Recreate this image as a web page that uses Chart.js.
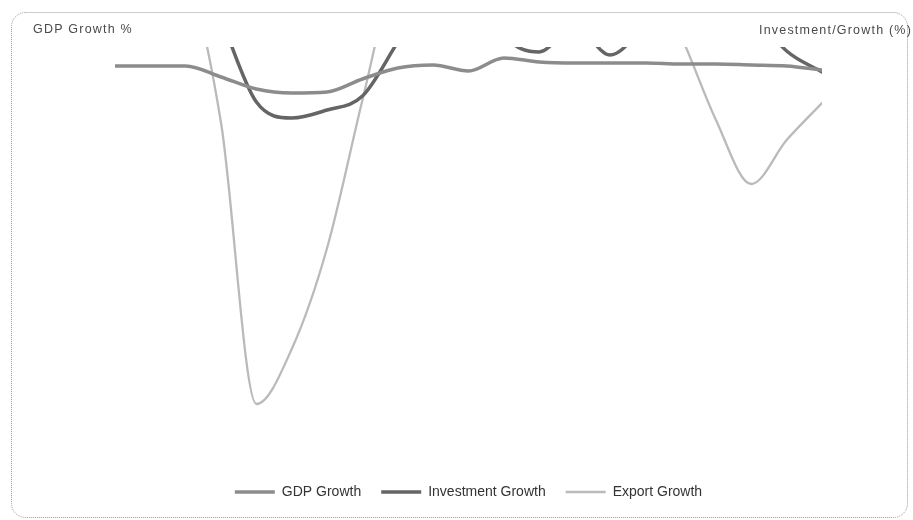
<!DOCTYPE html>
<html><head><meta charset="utf-8">
<script src="https://cdn.jsdelivr.net/npm/chart.js@4.4.0/dist/chart.umd.min.js"></script>
<style>html,body{margin:0;padding:0;background:#fff;}canvas{display:block;}</style>
</head><body>
<canvas id="c" width="913" height="520"></canvas>
<script>
// ---- data ----
const years = ["2005","2006","2007","2008","2009","2010","2011","2012","2013","2014","2015","2016","2017","2018","2019","2020","2021","2022","2023","2024","2025"];
const gdpGrowth = [8.1, 8.1, 8.1, 7.0, 5.8, 5.4, 5.5, 6.8, 7.9, 8.2, 7.6, 8.9, 8.5, 8.4, 8.4, 8.4, 8.3, 8.3, 8.2, 8.1, 7.7];
const investmentGrowth = [22, 24, 20, 12.7, 4.5, 2.9, 3.7, 5.1, 10.5, 16, 18, 11.2, 9.5, 12.2, 9.2, 12.2, 16, 18, 13.7, 9.6, 7.5];
const exportGrowth = [18, 20, 17.5, 2.4, -25.7, -20.2, -10.1, 4.7, 18.7, 22, 25, 20, 24, 21, 23, 18, 11.2, 2.7, -3.7, 0.7, 4.4];
const seriesNames = ["GDP Growth", "Investment Growth", "Export Growth"];
const leftTitle = "GDP Growth %";
const rightTitle = "Investment/Growth (%)";

const frame = {
  id: 'frame',
  beforeDraw(chart) {
    const ctx = chart.ctx;
    ctx.save();
    ctx.fillStyle = '#fff';
    ctx.fillRect(0, 0, chart.width, chart.height);
    ctx.strokeStyle = '#9a9a9a';
    ctx.lineWidth = 1;
    ctx.setLineDash([1, 1]);
    ctx.beginPath();
    ctx.roundRect(11.5, 12.5, 896, 505, 14);
    ctx.stroke();
    ctx.restore();
  },
  afterDraw(chart) {
    const ctx = chart.ctx;
    ctx.save();
    ctx.font = '12.5px "Liberation Sans", Arial, sans-serif';
    ctx.fillStyle = '#4a4a4a';
    if ('letterSpacing' in ctx) ctx.letterSpacing = '1.2px';
    ctx.textBaseline = 'middle';
    ctx.textAlign = 'left';
    ctx.fillText(leftTitle, 33, 30);
    ctx.textAlign = 'right';
    ctx.fillText(rightTitle, 912, 31);
    ctx.restore();
  }
};

new Chart(document.getElementById('c'), {
  type: 'line',
  data: {
    labels: years,
    datasets: [
      { label: seriesNames[0], data: gdpGrowth, yAxisID: 'y', borderColor: '#8c8c8c', backgroundColor: '#8c8c8c', borderWidth: 3.5 },
      { label: seriesNames[1], data: investmentGrowth, yAxisID: 'y1', borderColor: '#656565', backgroundColor: '#656565', borderWidth: 3.5 },
      { label: seriesNames[2], data: exportGrowth, yAxisID: 'y1', borderColor: '#bababa', backgroundColor: '#bababa', borderWidth: 2.3 }
    ]
  },
  options: {
    responsive: false,
    animation: false,
    devicePixelRatio: 1,
    layout: { padding: { left: 115, right: 91, top: 47, bottom: 11 } },
    elements: {
      line: { cubicInterpolationMode: 'monotone', borderCapStyle: 'round' },
      point: { radius: 0, hoverRadius: 0 }
    },
    datasets: { line: { clip: 0 } },
    scales: {
      x: { display: false },
      y: { display: false, min: -31.8, max: 10 },
      y1: { display: false, position: 'right', min: -31.8, max: 10 }
    },
    plugins: {
      legend: {
        position: 'bottom',
        labels: {
          usePointStyle: true,
          pointStyle: 'line',
          pointStyleWidth: 40,
          boxHeight: 4,
          padding: 20,
          color: '#333',
          font: { size: 14, family: '"Liberation Sans", Arial, sans-serif' }
        }
      },
      tooltip: { enabled: false }
    }
  },
  plugins: [frame]
});
</script>
</body></html>
